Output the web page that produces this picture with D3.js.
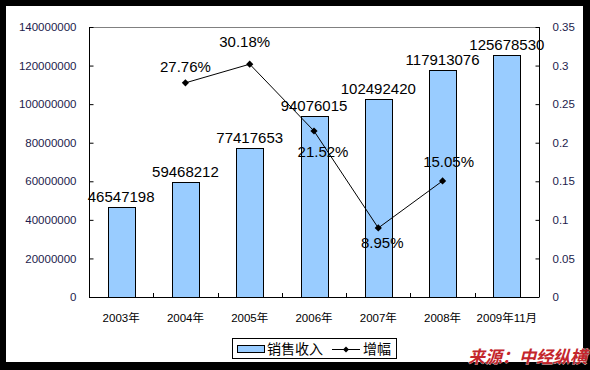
<!DOCTYPE html>
<html><head><meta charset="utf-8">
<script src="https://cdn.jsdelivr.net/npm/d3@7"></script>
<style>body{margin:0;background:#000;}svg{display:block;}</style>
</head><body><svg id="c" width="590" height="370"></svg>
<script>
const categories = ["2003年","2004年","2005年","2006年","2007年","2008年","2009年11月"];
const sales = [46547198, 59468212, 77417653, 94076015, 102492420, 117913076, 125678530];
const growth = [null, 0.2776, 0.3018, 0.2152, 0.0895, 0.1505, null];
const growthLabels = [null, "27.76%", "30.18%", "21.52%", "8.95%", "15.05%", null];
const leftTicks = [0,20000000,40000000,60000000,80000000,100000000,120000000,140000000];
const rightTicks = [0,0.05,0.1,0.15,0.2,0.25,0.3,0.35];
const legendLabels = ["销售收入","增幅"];
const sourceText = "来源：中经纵横";

const svg = d3.select("#c");
const W=590,H=370;
svg.append("rect").attr("width",W).attr("height",H).attr("fill","#000");
svg.append("rect").attr("x",6).attr("y",6).attr("width",577).attr("height",356).attr("fill","#fff");

const L=89,R=539,T=27,B=297;
const font="'Liberation Sans', Arial, sans-serif";
const cjk="'Liberation Sans','Noto Sans CJK SC',sans-serif";
const x=d3.scaleBand().domain(categories).range([L,R]);
const y=d3.scaleLinear().domain([0,140000000]).range([B,T]);
const y2=d3.scaleLinear().domain([0,0.35]).range([B,T]);

svg.append("line").attr("x1",L).attr("x2",R).attr("y1",T+0.5).attr("y2",T+0.5).attr("stroke","#808080");

const bw=x.bandwidth()*0.42;
svg.selectAll(".bar").data(sales).enter().append("rect")
 .attr("x",(d,i)=>Math.round(x(categories[i])+x.bandwidth()/2-bw/2)+0.5)
 .attr("y",d=>Math.round(y(d))+0.5)
 .attr("width",Math.round(bw))
 .attr("height",d=>B-Math.round(y(d)))
 .attr("fill","#99ccff").attr("stroke","#000").attr("stroke-width",1);

const gl=svg.append("g").attr("transform",`translate(${L+0.5},0)`)
 .call(d3.axisLeft(y).tickValues(leftTicks).tickSize(-4).tickPadding(13).tickFormat(d3.format("d")));
const gr=svg.append("g").attr("transform",`translate(${R+0.5},0)`)
 .call(d3.axisRight(y2).tickValues(rightTicks).tickSize(-4).tickPadding(13).tickFormat(d=>String(+d.toFixed(2))));
const gb=svg.append("g").attr("transform",`translate(0,${B+0.5})`)
 .call(d3.axisBottom(x).tickSize(0).tickPadding(16));
const bounds=d3.range(categories.length+1).map(i=>L+i*x.step());
svg.selectAll(".bt").data(bounds).enter().append("line")
 .attr("x1",d=>Math.round(d)+0.5).attr("x2",d=>Math.round(d)+0.5)
 .attr("y1",B).attr("y2",B-4).attr("stroke","#000");
[gl,gr,gb].forEach(g=>{
  g.select(".domain").attr("stroke","#000");
  g.selectAll(".tick line").attr("stroke","#000");
  g.selectAll("text").attr("font-family",cjk).attr("font-size","11.5px").attr("fill","#1c1c4c");
});
gl.select(".domain").attr("d",`M0,${T}V${B}`);
gr.select(".domain").attr("d",`M0,${T}V${B}`);
gb.select(".domain").attr("d",`M${L},0H${R}`);
gb.selectAll("text").attr("fill","#000");

svg.selectAll(".vl").data(sales).enter().append("text")
 .attr("x",(d,i)=>x(categories[i])+x.bandwidth()/2)
 .attr("y",d=>y(d)-5)
 .attr("text-anchor","middle").attr("font-family",font).attr("font-size","15px").attr("fill","#000")
 .text(d=>d);

const pts=growth.map((g,i)=>({g,i})).filter(d=>d.g!==null);
const line=d3.line().x(d=>x(categories[d.i])+x.bandwidth()/2).y(d=>y2(d.g));
svg.append("path").datum(pts).attr("d",line).attr("fill","none").attr("stroke","#000").attr("stroke-width",1);
const diamond="M0,-3.6L3.6,0L0,3.6L-3.6,0Z";
svg.selectAll(".pt").data(pts).enter().append("path")
 .attr("d",diamond)
 .attr("transform",d=>`translate(${x(categories[d.i])+x.bandwidth()/2},${y2(d.g)})`)
 .attr("fill","#000");
const labelDy=[0,-11,-17,26,20,-14,0];
const labelDx=[0,0,-5,9,4,6,0];
svg.selectAll(".gl").data(pts).enter().append("text")
 .attr("x",d=>x(categories[d.i])+x.bandwidth()/2+labelDx[d.i])
 .attr("y",d=>y2(d.g)+labelDy[d.i])
 .attr("text-anchor","middle").attr("font-family",font).attr("font-size","15px").attr("fill","#000")
 .text(d=>growthLabels[d.i]);

const lg=svg.append("g");
lg.append("rect").attr("x",232.5).attr("y",338.5).attr("width",164).attr("height",20).attr("fill","#fff").attr("stroke","#000");
lg.append("rect").attr("x",237.5).attr("y",345.5).attr("width",27).attr("height",7).attr("fill","#99ccff").attr("stroke","#000");
lg.append("text").attr("x",267).attr("y",354).attr("font-family","'Noto Sans CJK SC',sans-serif").attr("font-size","14px").text(legendLabels[0]);
lg.append("line").attr("x1",332).attr("x2",360).attr("y1",349.5).attr("y2",349.5).attr("stroke","#000");
lg.append("path").attr("d","M0,-3L3,0L0,3L-3,0Z").attr("transform","translate(346,349.5)").attr("fill","#000");
lg.append("text").attr("x",363).attr("y",354).attr("font-family","'Noto Sans CJK SC',sans-serif").attr("font-size","14px").text(legendLabels[1]);

svg.append("text").attr("x",468).attr("y",363).attr("font-family","'Noto Sans CJK SC',sans-serif")
 .attr("font-size","17px").attr("font-weight","bold").attr("font-style","italic")
 .attr("fill","#c4262c").attr("stroke","#fff").attr("stroke-width",0.5).attr("paint-order","stroke")
 .text(sourceText);
</script></body></html>
